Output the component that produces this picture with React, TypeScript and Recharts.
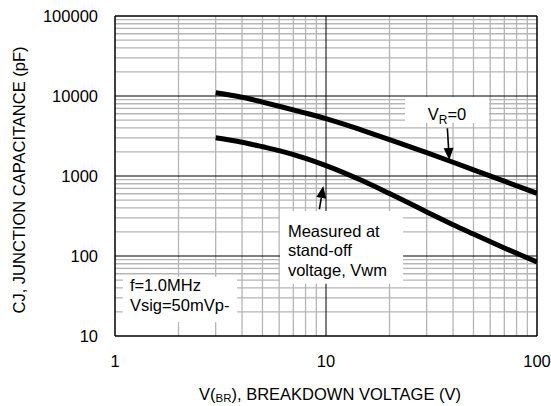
import React from 'react';
import { LineChart, Line, XAxis, YAxis, ReferenceLine, ReferenceArea } from 'recharts';

const FONT = "'Liberation Sans', Arial, Helvetica, sans-serif";

// Breakdown voltage (V) sample points
const vBr = [3, 4, 5, 6, 8, 10, 15, 20, 30, 40, 50, 70, 100];
// Junction capacitance at V_R = 0 (pF)
const cjZeroBias = [11000, 9650, 8400, 7450, 6120, 5210, 3700, 2855, 1955, 1485, 1195, 861, 608];
// Junction capacitance measured at stand-off voltage (pF)
const cjStandOff = [3000, 2640, 2320, 2075, 1660, 1350, 864, 603, 356, 246, 188, 126, 84];

const xTicks = [1, 10, 100];
const yTicks = [10, 100, 1000, 10000, 100000];

const xMinorGrid = [2, 3, 4, 5, 6, 7, 8, 9, 20, 30, 40, 50, 60, 70, 80, 90];
const xMajorGrid = [10, 100];
const yMinorGrid = [
  20, 30, 40, 50, 60, 70, 80, 90,
  200, 300, 400, 500, 600, 700, 800, 900,
  2000, 3000, 4000, 5000, 6000, 7000, 8000, 9000,
  20000, 30000, 40000, 50000, 60000, 70000, 80000, 90000,
];
const yMajorGrid = [100, 1000, 10000, 100000];

const upperData = vBr.map((v, i) => ({ v, c: cjZeroBias[i] }));
const lowerData = vBr.map((v, i) => ({ v, c: cjStandOff[i] }));

// annotation anchors (data coordinates)
const vrArrow = [{ x: 37.6, y: 3950 }, { x: 38.4, y: 1585 }];
const vwmArrow = [{ x: 9.3, y: 384 }, { x: 9.71, y: 750 }];

function Arrow(props: any) {
  const { x1, y1, x2, y2 } = props;
  if ([x1, y1, x2, y2].some((n) => typeof n !== 'number' || isNaN(n))) return null;
  const dx = x2 - x1;
  const dy = y2 - y1;
  const len = Math.hypot(dx, dy) || 1;
  const ux = dx / len;
  const uy = dy / len;
  const hl = 12;
  const hw = 5;
  const bx = x2 - ux * hl;
  const by = y2 - uy * hl;
  const p1 = `${bx - uy * hw},${by + ux * hw}`;
  const p2 = `${bx + uy * hw},${by - ux * hw}`;
  return (
    <g>
      <line x1={x1} y1={y1} x2={bx} y2={by} stroke="#000" strokeWidth={1.6} />
      <polygon points={`${x2},${y2} ${p1} ${p2}`} fill="#000" />
    </g>
  );
}

const vbOf = (p: any) => p.viewBox || { x: p.x, y: p.y, width: p.width, height: p.height };

const VrLabel = (p: any) => {
  const vb = vbOf(p);
  return (
    <text x={vb.x + vb.width / 2} y={vb.y + 23} textAnchor="middle" fontSize={16.5} fontFamily={FONT} fill="#000">
      V<tspan fontSize={12} dy={4}>R</tspan>
      <tspan dy={-4}>=0</tspan>
    </text>
  );
};

const VwmLabel = (p: any) => {
  const vb = vbOf(p);
  const x = vb.x + 8;
  return (
    <text fontSize={16.5} fontFamily={FONT} fill="#000">
      <tspan x={x} y={vb.y + 25.7}>Measured at</tspan>
      <tspan x={x} y={vb.y + 45.2}>stand-off</tspan>
      <tspan x={x} y={vb.y + 64.7}>voltage, Vwm</tspan>
    </text>
  );
};

const FreqLabel = (p: any) => {
  const vb = vbOf(p);
  const x = vb.x + 7;
  return (
    <text fontSize={16.5} fontFamily={FONT} fill="#000">
      <tspan x={x} y={vb.y + 14.7}>f=1.0MHz</tspan>
      <tspan x={x} y={vb.y + 34.7}>Vsig=50mVp-</tspan>
    </text>
  );
};

const XTitle = () => (
  <text x={330} y={400} textAnchor="middle" fontSize={16.5} fontFamily={FONT} fill="#000">
    V(<tspan fontSize={11.5} dy={2}>BR</tspan>
    <tspan dy={-2}>), BREAKDOWN VOLTAGE (V)</tspan>
  </text>
);

const YTitle = () => (
  <text
    x={25}
    y={180}
    transform="rotate(-90, 25, 180)"
    textAnchor="middle"
    fontSize={16.5}
    fontFamily={FONT}
    fill="#000"
  >
    CJ, JUNCTION CAPACITANCE (pF)
  </text>
);

export default function App() {
  const tickStyle = { fontSize: 16.5, fill: '#000', fontFamily: FONT };
  return (
    <div style={{ position: 'absolute', left: 0, top: 0, width: 551, height: 406, background: '#fff' }}>
      <LineChart
        width={551}
        height={406}
        margin={{ top: 16, right: 14, left: 0, bottom: 0 }}
        style={{ fontFamily: FONT }}
      >
        <XAxis
          dataKey="v"
          type="number"
          scale="log"
          domain={[1, 100]}
          ticks={xTicks}
          interval={0}
          allowDataOverflow
          height={70}
          tickLine={false}
          tickSize={0}
          tickMargin={19}
          tick={tickStyle}
          axisLine={{ stroke: '#000', strokeWidth: 1.5 }}
          label={<XTitle />}
        />
        <YAxis
          dataKey="c"
          type="number"
          scale="log"
          domain={[10, 100000]}
          ticks={yTicks}
          interval={0}
          allowDataOverflow
          width={115}
          tickLine={false}
          tickSize={0}
          tickMargin={17}
          tick={tickStyle}
          axisLine={{ stroke: '#000', strokeWidth: 1.5 }}
          label={<YTitle />}
        />
        {xMinorGrid.map((v) => (
          <ReferenceLine key={'xm' + v} x={v} stroke="#b5b5b5" strokeWidth={1.3} zIndex={-60} />
        ))}
        {yMinorGrid.map((v) => (
          <ReferenceLine key={'ym' + v} y={v} stroke="#b5b5b5" strokeWidth={1.3} zIndex={-60} />
        ))}
        {xMajorGrid.map((v) => (
          <ReferenceLine key={'xM' + v} x={v} stroke="#000" strokeWidth={v === 100 ? 1.5 : 1} zIndex={-55} />
        ))}
        {yMajorGrid.map((v) => (
          <ReferenceLine key={'yM' + v} y={v} stroke="#000" strokeWidth={v === 100000 ? 1.5 : 1} zIndex={-55} />
        ))}
        <ReferenceArea x1={23.7} x2={59.2} y1={4600} y2={9700} fill="#fff" fillOpacity={1} stroke="none" zIndex={-40} label={VrLabel} />
        <ReferenceArea x1={6.05} x2={23.2} y1={45} y2={365} fill="#fff" fillOpacity={1} stroke="none" zIndex={-40} label={VwmLabel} />
        <ReferenceArea x1={1.09} x2={3.79} y1={15} y2={55} fill="#fff" fillOpacity={1} stroke="none" zIndex={-40} label={FreqLabel} />
        <Line
          data={upperData}
          dataKey="c"
          type="monotone"
          stroke="#000"
          strokeWidth={5}
          dot={false}
          activeDot={false}
          isAnimationActive={false}
        />
        <Line
          data={lowerData}
          dataKey="c"
          type="monotone"
          stroke="#000"
          strokeWidth={5}
          dot={false}
          activeDot={false}
          isAnimationActive={false}
        />
        <ReferenceLine segment={vrArrow} shape={Arrow} zIndex={500} />
        <ReferenceLine segment={vwmArrow} shape={Arrow} zIndex={500} />
      </LineChart>
    </div>
  );
}
